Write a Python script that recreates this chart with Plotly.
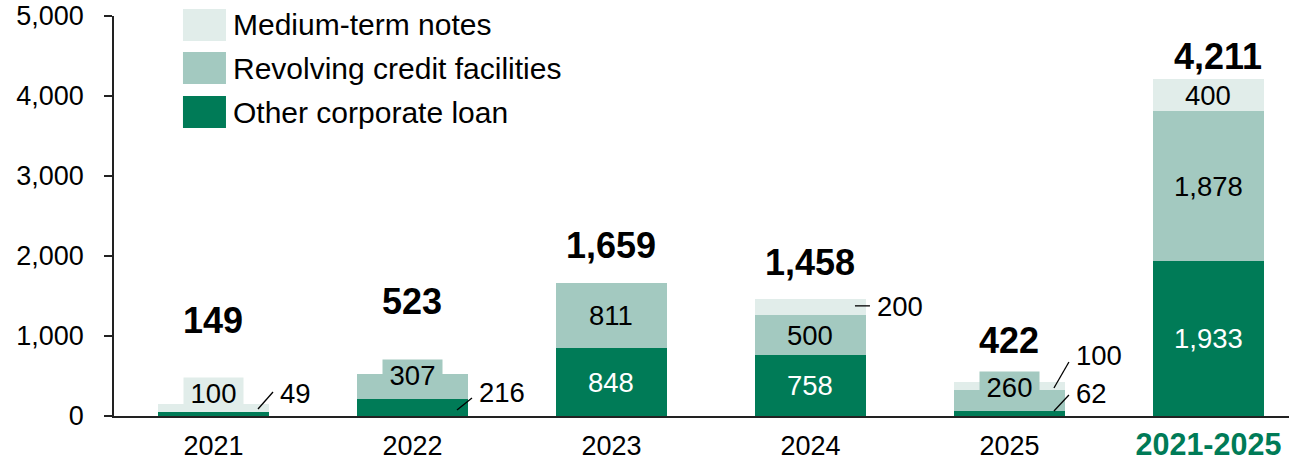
import plotly.graph_objects as go

# ---- data (JPY bn) ----
categories = ["2021", "2022", "2023", "2024", "2025", "2021-2025"]
other_corporate_loan = [49, 216, 848, 758, 62, 1933]
revolving_credit_facilities = [0, 307, 811, 500, 260, 1878]
medium_term_notes = [100, 0, 0, 200, 100, 400]
y_tick_values = [0, 1000, 2000, 3000, 4000, 5000]

# ---- styling ----
GREEN = "#007B57"
TEAL = "#A3C9C0"
PALE = "#E1EDEA"
FONT = "Liberation Sans, Arial, sans-serif"
BAR_WIDTH = 0.558
LABEL_SIZE = 27.5

series = [
    ("Other corporate loan", other_corporate_loan, GREEN, "white"),
    ("Revolving credit facilities", revolving_credit_facilities, TEAL, "black"),
    ("Medium-term notes", medium_term_notes, PALE, "black"),
]

# how each segment value is labelled: inside, inside with a raised filled box,
# or outside to the right with a leader line
label_style = {
    "Other corporate loan": ["out", "out", "in", "in", "out", "in"],
    "Revolving credit facilities": ["in", "box", "in", "in", "box", "in"],
    "Medium-term notes": ["box", "in", "in", "out", "out", "in"],
}
# raised boxes: pixel lift of the label above the segment middle
box_lift = {("Medium-term notes", 0): 15, ("Revolving credit facilities", 1): 11,
            ("Revolving credit facilities", 4): 14}
# outside labels: (text lift, leader start lift, leader end lift) in pixels
outside_lift = {
    ("Other corporate loan", 0): (21, 5, 22),
    ("Other corporate loan", 1): (15, -2.6, 9.4),
    ("Medium-term notes", 3): (1, 1.5, 1.5),
    ("Medium-term notes", 4): (31, -1.8, 24.2),
    ("Other corporate loan", 4): (20.5, 2.5, 18.5),
}
# pixel lift of each total above its bar
total_lift = [84, 73, 38, 37, 42, 23]
total_shift_x = [0, 0, 0, 0, 0, 10]

x_pos = list(range(len(categories)))
totals = [sum(v) for v in zip(other_corporate_loan, revolving_credit_facilities, medium_term_notes)]

fig = go.Figure()
for name, values, color, _ in series:
    fig.add_trace(go.Bar(
        x=x_pos, y=values, name=name, width=BAR_WIDTH,
        marker=dict(color=color, line=dict(width=0)),
        showlegend=False, hoverinfo="skip",
    ))

annotations = []
shapes = []

# segment value labels
base = [0] * len(categories)
for name, values, color, text_color in series:
    for i, v in enumerate(values):
        if v == 0:
            continue
        mid = base[i] + v / 2
        style = label_style[name][i]
        txt = f"{v:,}"
        if style == "in":
            annotations.append(dict(
                x=i, y=mid, text=txt, showarrow=False,
                font=dict(family=FONT, size=LABEL_SIZE, color=text_color),
                xanchor="center", yanchor="middle"))
        elif style == "box":
            annotations.append(dict(
                x=i, y=mid, text=txt, showarrow=False, yshift=box_lift[(name, i)],
                font=dict(family=FONT, size=LABEL_SIZE, color=text_color),
                bgcolor=color, width=59, height=30, borderpad=0,
                xanchor="center", yanchor="middle"))
        else:
            t_lift, l0, l1 = outside_lift[(name, i)]
            edge = i + BAR_WIDTH / 2
            annotations.append(dict(
                x=edge, y=mid, text=txt, showarrow=False,
                xshift=9, yshift=t_lift,
                font=dict(family=FONT, size=LABEL_SIZE, color="black"),
                xanchor="left", yanchor="middle"))
            shapes.append(dict(
                type="line", xref="x", yref="y",
                xsizemode="pixel", ysizemode="pixel",
                xanchor=edge, yanchor=mid,
                x0=-11, x1=4, y0=l0, y1=l1,
                line=dict(color="black", width=1.3)))
        base[i] += v

# totals above bars
for i, t in enumerate(totals):
    annotations.append(dict(
        x=i, y=t, text=f"<b>{t:,}</b>", showarrow=False,
        yshift=total_lift[i], xshift=total_shift_x[i],
        font=dict(family=FONT, size=36, color="black"),
        xanchor="center", yanchor="middle"))

# legend drawn as swatches with labels
legend_rows = [("Medium-term notes", PALE, 0.9375, 1.0175),
               ("Revolving credit facilities", TEAL, 0.83, 0.91),
               ("Other corporate loan", GREEN, 0.72, 0.80)]
for name, color, y0, y1 in legend_rows:
    shapes.append(dict(type="rect", xref="paper", yref="paper",
                       x0=0.0587, x1=0.0953, y0=y0, y1=y1,
                       fillcolor=color, line=dict(width=0), layer="above"))
    annotations.append(dict(
        xref="paper", yref="paper", x=0.0995, y=(y0 + y1) / 2,
        text=name, showarrow=False, xanchor="left", yanchor="middle",
        font=dict(family=FONT, size=30, color="black")))

tick_text = categories[:-1] + [
    f"<span style='color:{GREEN};font-size:30.5px'><b>{categories[-1]}</b></span>"]

fig.update_layout(
    width=1289, height=460,
    margin=dict(l=114, r=0, t=16, b=44),
    plot_bgcolor="white", paper_bgcolor="white",
    barmode="stack", bargap=0,
    font=dict(family=FONT, size=27, color="black"),
    annotations=annotations, shapes=shapes,
    xaxis=dict(
        range=[-0.5, 5.405], tickmode="array", tickvals=x_pos, ticktext=tick_text,
        showline=True, linecolor="#222", linewidth=1.5, ticks="",
        showgrid=False, zeroline=False, ticklabelstandoff=5,
        tickfont=dict(family=FONT, size=27, color="black"),
    ),
    yaxis=dict(
        range=[0, 5000], tickmode="array", tickvals=y_tick_values,
        tickformat=",", showline=True, linecolor="#222", linewidth=1.5,
        ticks="outside", ticklen=8, tickcolor="#222", tickwidth=1.5,
        showgrid=False, zeroline=False, ticklabelstandoff=15,
        tickfont=dict(family=FONT, size=27, color="black"),
    ),
)

fig.write_html("out.html")
